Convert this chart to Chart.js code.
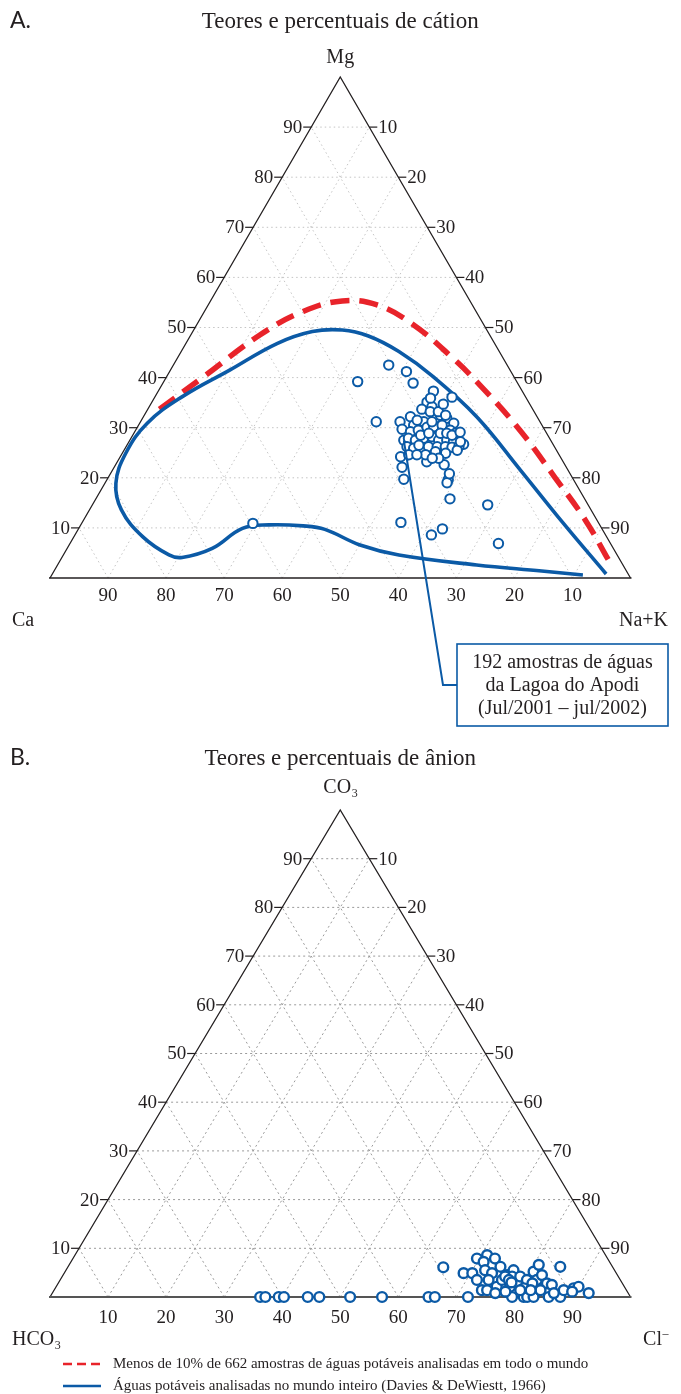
<!DOCTYPE html>
<html>
<head>
<meta charset="utf-8">
<script src="https://cdn.jsdelivr.net/npm/chart.js@4.4.1/dist/chart.umd.min.js"></script>
<style>
  html, body { margin: 0; padding: 0; background: #fff; }
  #page { position: relative; width: 681px; height: 1394px; overflow: hidden; }
  #page canvas { position: absolute; left: 0; }
</style>
</head>
<body>
<div id="page">
  <canvas id="cation" width="681" height="740" style="top:0px"></canvas>
  <canvas id="anion" width="681" height="654" style="top:740px"></canvas>
</div>
<script>
// ---------- data (percentages) ----------
// Cations: [Mg %, Na+K %]; Ca % is the remainder.
const apodiCations = [
  [10.9,29.5],[39.2,33.4],[42.5,37.1],[41.2,40.8],[38.9,43.1],[37.3,47.4],[36.1,51.2],[31.2,40.6],
  [11.1,54.9],[8.6,61.4],[9.8,62.7],[14.6,68.1],[6.9,73.8],[24.2,48.3],[22.1,49.6],[19.7,51.1],
  [15.8,61.0],[19.6,58.8],[19.0,58.9],[20.8,58.4],[22.6,56.6],[23.2,53.3],[35.1,47.4],[33.7,47.2],
  [34.2,48.7],[31.2,44.7],[32.2,46.0],[30.5,47.4],[31.2,48.8],[31.9,50.4],[32.5,51.0],[31.9,52.4],
  [30.9,54.1],[29.7,45.8],[29.2,47.5],[29.5,48.7],[30.1,49.9],[30.2,51.0],[30.5,52.3],[29.5,54.2],
  [28.9,55.4],[27.5,47.2],[27.9,47.8],[27.5,49.2],[27.9,50.4],[28.2,51.7],[27.5,53.2],[27.5,54.6],
  [27.2,55.9],[26.7,57.9],[26.2,48.4],[25.9,49.7],[26.5,50.3],[26.2,52.1],[26.2,53.6],[26.2,55.0],
  [26.1,56.2],[26.3,57.3],[24.6,52.4],[25.2,53.8],[24.9,55.7],[31.5,47.5],[33.2,48.9],[33.2,50.3],
  [32.5,51.9],[31.2,50.2],[28.5,49.6],[28.9,50.8],[28.9,52.8],[28.9,53.9],[28.5,55.0],[24.6,49.5],
  [24.6,50.9],[23.9,55.0],[23.9,53.9],[25.5,57.4],[27.2,57.1],[35.9,47.6],[34.7,50.4],[29.1,56.1]
];
// Anions: [CO3 %, Cl %]; HCO3 % is the remainder.
const apodiAnions = [
  [0,36.2],[0,37.1],[0,39.4],[0,40.3],[0,44.4],[0,46.4],[0,51.7],[0,57.2],[0,65.2],[0,66.3],
  [0,72.0],[0,79.6],[0,81.6],[0,82.2],[0,83.3],[0,85.9],[0,87.9],
  [6.1,64.7],[4.9,68.8],[4.9,70.3],[7.9,69.6],[8.6,71.0],[7.9,72.7],[7.2,71.1],[5.5,72.2],
  [4.9,73.7],[6.2,74.5],[3.5,73.8],[1.4,73.7],[1.4,74.6],[2.1,75.9],[3.5,76.1],[4.5,76.5],
  [5.5,77.1],[4.2,77.5],[2.8,79.1],[2.1,78.2],[4.2,78.9],[3.5,80.4],[5.2,80.7],[6.6,80.9],
  [3.5,82.1],[2.8,81.7],[4.5,82.5],[2.8,84.2],[2.5,85.2],[6.2,84.8],[1.4,87.8],[1.8,89.3],
  [2.1,90.0],[1.1,89.4],[0.8,92.4],[1.8,80.7],[1.1,77.9],[0.8,76.3],[1.4,83.8],[4.2,76.3],
  [3.5,77.3],[3.0,78.0],[1.4,80.3],[1.4,82.1],[0.8,86.4],[3.5,71.8]
];
// Envelope curves on the cation diagram: [Mg %, Na+K %]
const under10pctEnvelope = [
  [33.7,2.0],[40.2,6.4],[48.5,11.9],[53.2,17.0],[55.3,22.7],[54.5,29.1],[50.8,36.9],
  [44.2,47.0],[38.2,55.2],[29.5,66.2],[20.2,76.8],[11.6,86.4],[3.3,94.7]
];
const daviesEnvelope = [
  [0.8,95.4],[10.9,83.0],[21.6,70.2],[32.2,57.4],[40.2,45.9],[45.2,37.5],[48.3,30.7],[49.5,25.6],
  [49.2,20.6],[46.8,15.7],[41.5,10.2],[36.2,4.7],[30.9,1.3],[24.9,0.6],[18.9,1.9],[13.6,5.5],
  [8.2,11.9],[4.6,18.2],[4.1,20.7],[5.9,25.0],[9.9,28.2],[10.6,32.4],[10.4,38.4],[9.7,42.5],
  [6.6,50.1],[4.6,57.8],[2.6,72.2],[1.4,84.0],[0.6,91.5]
];
const gridSteps = [10, 20, 30, 40, 50, 60, 70, 80, 90];
const calloutAnchor = [27.5, 47.2];
const calloutLines = ['192 amostras de águas', 'da Lagoa do Apodi', '(Jul/2001 – jul/2002)'];
const legendItems = [
  'Menos de 10% de 662 amostras de águas potáveis analisadas em todo o mundo',
  'Águas potáveis analisadas no mundo inteiro (Davies & DeWiestt, 1966)'
];

// ---------- styling ----------
const BLUE = '#0b5aa6';
const RED = '#e8232a';
const INK = '#231f20';
const SERIF = "'Liberation Serif', 'DejaVu Serif', serif";
const SANS = "Lato, 'Open Sans', 'Noto Sans', sans-serif";
const H = Math.sqrt(3) / 2;

// ternary (top %, right %) -> cartesian data point
const tern = (top, right) => ({ x: right + top / 2, y: top * H });

function pixFn(chart) {
  const { x, y } = chart.scales;
  return (t, r) => {
    const p = tern(t, r);
    return [x.getPixelForValue(p.x), y.getPixelForValue(p.y)];
  };
}
function seg(ctx, a, b) {
  ctx.beginPath(); ctx.moveTo(a[0], a[1]); ctx.lineTo(b[0], b[1]); ctx.stroke();
}
// text with an optional small suffix raised or lowered (subscript / superscript)
function richText(ctx, main, small, x, y, size, align, shift) {
  ctx.font = size + 'px ' + SERIF;
  const w1 = ctx.measureText(main).width;
  ctx.font = Math.round(size * 0.6) + 'px ' + SERIF;
  const w2 = small ? ctx.measureText(small).width : 0;
  const total = w1 + w2;
  let x0 = align === 'center' ? x - total / 2 : align === 'right' ? x - total : x;
  ctx.textAlign = 'left';
  ctx.textBaseline = 'alphabetic';
  ctx.font = size + 'px ' + SERIF;
  ctx.fillText(main, x0, y);
  if (small) {
    ctx.font = Math.round(size * 0.6) + 'px ' + SERIF;
    ctx.fillText(small, x0 + w1 + 0.5, y + shift);
  }
}

const ternaryPlugin = {
  id: 'ternary',
  beforeDatasetsDraw(chart, _args, o) {
    const ctx = chart.ctx;
    const P = pixFn(chart);
    ctx.save();
    // dotted 10 % grid in the three directions
    ctx.strokeStyle = o.gridColor;
    ctx.lineWidth = 1;
    ctx.setLineDash(o.gridDash);
    gridSteps.forEach(k => {
      seg(ctx, P(k, 0), P(k, 100 - k));
      seg(ctx, P(0, k), P(100 - k, k));
      seg(ctx, P(0, 100 - k), P(100 - k, 0));
    });
    ctx.setLineDash([]);
    // triangle frame
    const A = P(100, 0), L = P(0, 0), R = P(0, 100);
    ctx.strokeStyle = INK;
    ctx.lineWidth = 1.3;
    ctx.beginPath(); ctx.moveTo(L[0], L[1]); ctx.lineTo(A[0], A[1]); ctx.lineTo(R[0], R[1]); ctx.stroke();
    ctx.strokeStyle = o.baseColor;
    ctx.lineWidth = o.baseWidth;
    seg(ctx, [L[0] - 1, L[1]], [R[0] + 1, R[1]]);
    // tick marks and labels
    ctx.strokeStyle = INK;
    ctx.lineWidth = 1.2;
    ctx.fillStyle = INK;
    ctx.font = '19px ' + SERIF;
    ctx.textBaseline = 'middle';
    gridSteps.forEach(k => {
      const l = P(k, 0);
      seg(ctx, [l[0] - 8, l[1]], l);
      ctx.textAlign = 'right';
      ctx.fillText(String(k), l[0] - 9, l[1] + 1);
      const r = P(k, 100 - k);
      seg(ctx, r, [r[0] + 8, r[1]]);
      ctx.textAlign = 'left';
      ctx.fillText(String(100 - k), r[0] + 9, r[1] + 1);
      const b = P(0, k);
      ctx.textAlign = 'center';
      ctx.fillText(String(o.bottomFromRight ? k : 100 - k), b[0], b[1] + o.bottomGap);
    });
    ctx.restore();
  },
  afterDatasetsDraw(chart, _args, o) {
    if (!o.callout) return;
    const ctx = chart.ctx;
    const P = pixFn(chart);
    const c = o.callout;
    const start = P(calloutAnchor[0], calloutAnchor[1]);
    ctx.save();
    ctx.strokeStyle = BLUE;
    ctx.lineWidth = 2;
    ctx.beginPath();
    ctx.moveTo(start[0], start[1]);
    ctx.lineTo(c.elbowX, c.elbowY);
    ctx.lineTo(c.left, c.elbowY);
    ctx.stroke();
    ctx.lineWidth = 1.6;
    ctx.strokeRect(c.left, c.top, c.width, c.height);
    ctx.fillStyle = INK;
    ctx.font = '20px ' + SERIF;
    ctx.textAlign = 'center';
    ctx.textBaseline = 'alphabetic';
    calloutLines.forEach((s, i) => ctx.fillText(s, c.left + c.width / 2, c.top + 24 + i * 23));
    ctx.restore();
  },
  afterDraw(chart, _args, o) {
    const ctx = chart.ctx;
    const P = pixFn(chart);
    const A = P(100, 0), L = P(0, 0), R = P(0, 100);
    ctx.save();
    ctx.fillStyle = INK;
    // panel letter and heading
    ctx.font = '23px ' + SANS;
    ctx.textAlign = 'left';
    ctx.textBaseline = 'alphabetic';
    ctx.fillText(o.panel, 10, o.headY);
    ctx.font = '23px ' + SERIF;
    ctx.textAlign = 'center';
    ctx.fillText(o.heading, A[0], o.headY);
    // vertex names
    const top = o.vertices.top, left = o.vertices.left, right = o.vertices.right;
    richText(ctx, top[0], top[1], A[0], A[1] - o.topGap, 20, 'center', 4);
    richText(ctx, left[0], left[1], 12, L[1] + o.cornerGap, 20, 'left', 4);
    richText(ctx, right[0], right[1], 668, R[1] + o.cornerGap, 20, 'right', -8);
    // legend of the envelope curves
    if (o.legend) {
      const g = o.legend;
      ctx.lineWidth = 2.6;
      ctx.strokeStyle = RED;
      ctx.setLineDash([9, 5]);
      seg(ctx, [g.x, g.y], [g.x + 38, g.y]);
      ctx.setLineDash([]);
      ctx.strokeStyle = BLUE;
      seg(ctx, [g.x, g.y + g.step], [g.x + 38, g.y + g.step]);
      ctx.font = '15px ' + SERIF;
      ctx.textAlign = 'left';
      ctx.textBaseline = 'middle';
      ctx.fillStyle = INK;
      legendItems.forEach((s, i) => ctx.fillText(s, g.x + 50, g.y + i * g.step));
    }
    ctx.restore();
  }
};

const scaleOpts = {
  x: { type: 'linear', min: 0, max: 100, display: false },
  y: { type: 'linear', min: 0, max: 100 * H, display: false }
};
const pointStyle = (r, w) => ({
  type: 'scatter', showLine: false, pointRadius: r, pointHoverRadius: r,
  pointBorderWidth: w, borderColor: BLUE, pointBorderColor: BLUE,
  pointBackgroundColor: '#fff', backgroundColor: '#fff', clip: false
});
const curve = (pts, color, width, dash) => ({
  type: 'scatter', data: pts.map(p => tern(p[0], p[1])),
  showLine: true, tension: 0.4, borderColor: color, borderWidth: width,
  borderDash: dash, borderCapStyle: 'butt', borderJoinStyle: 'round',
  pointRadius: 0, pointHoverRadius: 0, fill: false, clip: false
});

new Chart(document.getElementById('cation'), {
  type: 'scatter',
  data: {
    datasets: [
      Object.assign({ data: apodiCations.map(p => tern(p[0], p[1])) }, pointStyle(4.7, 2)),
      curve(daviesEnvelope, BLUE, 3.6, []),
      curve(under10pctEnvelope, RED, 5.5, [19, 10])
    ]
  },
  options: {
    responsive: false, animation: false, devicePixelRatio: 1,
    layout: { padding: { left: 50, right: 50.5, top: 77, bottom: 162 } },
    scales: scaleOpts,
    plugins: {
      legend: { display: false }, tooltip: { enabled: false },
      ternary: {
        gridColor: '#c4c4c4', gridDash: [1.5, 3], baseColor: INK, baseWidth: 1.3,
        bottomFromRight: false, bottomGap: 18, topGap: 14, cornerGap: 48,
        panel: 'A.', heading: 'Teores e percentuais de cátion', headY: 28,
        vertices: { top: ['Mg', ''], left: ['Ca', ''], right: ['Na+K', ''] },
        callout: { left: 457, top: 644, width: 211, height: 82, elbowX: 443, elbowY: 685 }
      }
    }
  },
  plugins: [ternaryPlugin]
});

new Chart(document.getElementById('anion'), {
  type: 'scatter',
  data: {
    datasets: [
      Object.assign({ data: apodiAnions.map(p => tern(p[0], p[1])) }, pointStyle(4.9, 2.4))
    ]
  },
  options: {
    responsive: false, animation: false, devicePixelRatio: 1,
    layout: { padding: { left: 50, right: 50.5, top: 70, bottom: 97 } },
    scales: scaleOpts,
    plugins: {
      legend: { display: false }, tooltip: { enabled: false },
      ternary: {
        gridColor: '#9a9a9a', gridDash: [2, 3], baseColor: '#555', baseWidth: 2,
        bottomFromRight: true, bottomGap: 21, topGap: 17, cornerGap: 48,
        panel: 'B.', heading: 'Teores e percentuais de ânion', headY: 25,
        vertices: { top: ['CO', '3'], left: ['HCO', '3'], right: ['Cl', '–'] },
        legend: { x: 63, y: 624, step: 22 }
      }
    }
  },
  plugins: [ternaryPlugin]
});
</script>
</body>
</html>
